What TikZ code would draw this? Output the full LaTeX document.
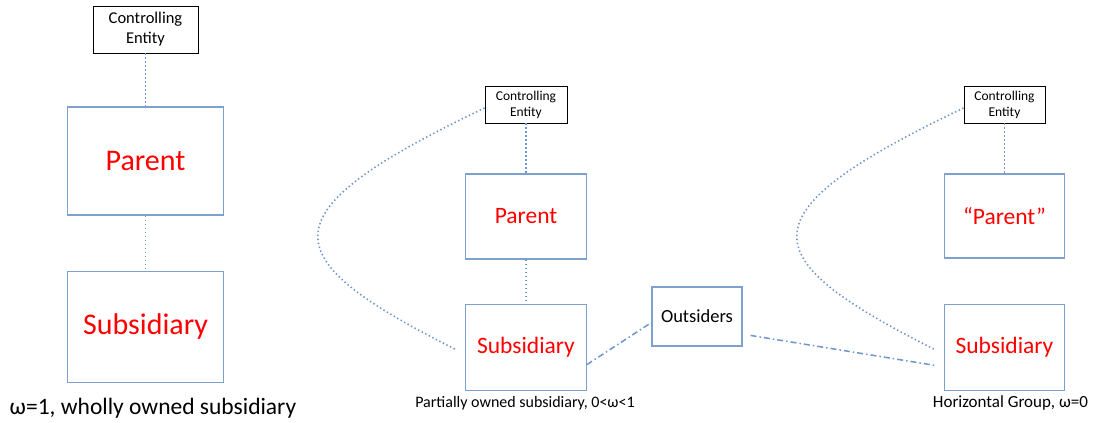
\documentclass[tikz,border=0pt]{standalone}
\usepackage{fontspec}
\setmainfont{Carlito}
\usetikzlibrary{positioning,calc}
\definecolor{boxblue}{RGB}{125,160,205}
\definecolor{lineblue}{RGB}{110,150,205}

\begin{document}
\begin{tikzpicture}[x=1pt, y=-1pt,
        entity/.style={draw=black, line width=0.9pt, fill=white, align=center, inner sep=0pt},
        firm/.style={draw=boxblue, line width=1.1pt, fill=white, text=red, inner sep=0pt},
        link/.style={lineblue, line width=1.6pt, dash pattern=on 1.4pt off 2.6pt},
        outlink/.style={lineblue, line width=1.5pt, dash pattern=on 6pt off 3pt on 1.5pt off 3pt},
        caption/.style={inner sep=0pt}]
        \useasboundingbox (0,0) rectangle (1098,423);

        % wholly owned
        \node[entity, style={minimum width=105pt, minimum height=47pt}, font=\fontsize{16.5}{20}\selectfont] (ce1) at (145.5,29.5) {Controlling\\Entity};
        \node[firm, style={minimum width=156pt, minimum height=108pt}, font=\fontsize{30}{34}\selectfont] (par1) [below=53pt of ce1] {Parent};
        \node[firm, style={minimum width=156pt, minimum height=111pt}, font=\fontsize{30}{34}\selectfont] (sub1) [below=55pt of par1] {Subsidiary};
        \node[caption, font=\fontsize{23.5}{27}\selectfont] (cap1) at (153,408) {ω=1, wholly owned subsidiary};
        \draw[link] (ce1) -- (par1);
        \draw[link] (par1) -- (sub1);

        % partially owned
        \node[entity, style={minimum width=82pt, minimum height=37pt}, font=\fontsize{13.5}{16}\selectfont] (ce2) at (526,104.5) {Controlling\\Entity};
        \node[firm, style={minimum width=121pt, minimum height=85pt}, font=\fontsize{23.5}{28}\selectfont] (par2) [below=50pt of ce2] {Parent};
        \node[firm, style={minimum width=121pt, minimum height=86pt}, font=\fontsize{23.5}{28}\selectfont] (sub2) [below=44pt of par2] {Subsidiary};
        \node[caption, font=\fontsize{16}{19}\selectfont] (cap2) at (525,403) {Partially owned subsidiary, 0<ω<1};
        \node[firm, text=black, style={minimum width=90pt, minimum height=59pt}, font=\fontsize{18.5}{22}\selectfont] (out) at (697,316.5) {Outsiders};
        \draw[link] (ce2) -- (par2);
        \draw[link] (par2) -- (sub2);
        \draw[link] ([yshift=-3.5pt]ce2.west) .. controls ($(ce2.west)+(-223,110)$) and ($(sub2.west)+(-192,-90)$) .. ($(sub2.west)+(-10,2)$);
        \draw[outlink] ($(sub2.east)!0.4!(sub2.south east)$) -- ($(out.west)!0.2!(out.south west)$);

        % horizontal group
        \node[entity, style={minimum width=81pt, minimum height=37pt}, font=\fontsize{13.5}{16}\selectfont] (ce3) at (1004.5,104.5) {Controlling\\Entity};
        \node[firm, style={minimum width=120pt, minimum height=84pt}, font=\fontsize{23.5}{28}\selectfont] (par3) [below=50pt of ce3] {``Parent''};
        \node[firm, style={minimum width=120pt, minimum height=86pt}, font=\fontsize{23.5}{28}\selectfont] (sub3) [below=45pt of par3] {Subsidiary};
        \node[caption, font=\fontsize{17}{20}\selectfont] (cap3) at (1010.5,403) {Horizontal Group, ω=0};
        \draw[link] (ce3) -- (par3);
        \draw[link] ([yshift=-3.5pt]ce3.west) .. controls ($(ce3.west)+(-223,110)$) and ($(sub3.west)+(-192,-90)$) .. ($(sub3.west)+(-10,2)$);
        \draw[outlink] ($(out.east)!0.63!(out.south east)+(8,0)$) -- ($(sub3.west)!0.42!(sub3.south west)+(-9,0)$);

        \end{tikzpicture}
\end{document}
